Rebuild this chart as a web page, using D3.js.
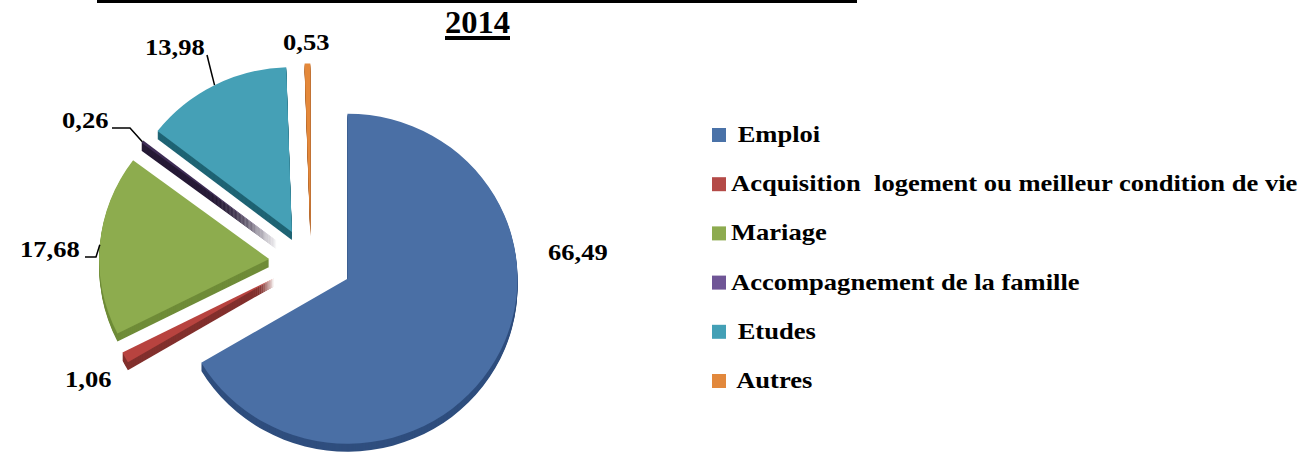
<!DOCTYPE html>
<html lang="fr">
<head>
  <meta charset="UTF-8">
  <title>2014</title>
  <script src="https://cdn.jsdelivr.net/npm/d3@7"></script>
  <style>
    body{ margin:0; background:#fff; }
    svg{ display:block; }
    text{ font-family:"Liberation Serif","Times New Roman",serif; font-weight:bold; fill:#000; white-space:pre; }
  </style>
</head>
<body>
  <script>
    // données
    const categories = [' Emploi', 'Acquisition  logement ou meilleur condition de vie', 'Mariage',
      'Accompagnement de la famille', ' Etudes', ' Autres'];
    const values = [66.49, 1.06, 17.68, 0.26, 13.98, 0.53];
    const valueLabels = ['66,49', '1,06', '17,68', '0,26', '13,98', '0,53'];
    const topColors = ['#4A6FA5', '#B8433F', '#8DAC4E', '#3E2C55', '#45A0B6', '#E4883A'];
    const sideColors = ['#2F4E7E', '#82302D', '#6F8C38', '#261A36', '#1F6474', '#B0652A'];
    const legendColors = ['#4A72A8', '#B44A47', '#8DAB4F', '#6F5596', '#43A0B6', '#E2883C'];

    const W = 1310, H = 453;
    const cx = 311, cy = 262, rx = 170, ry = 165, depth = 8, explode = 42;
    const sx = 1.18; // texte un peu étiré

    const svg = d3.select('body').append('svg').attr('width', W).attr('height', H);

    // titre (ligne soulignée coupée en haut + 2014)
    svg.append('rect').attr('x', 97).attr('y', 0).attr('width', 760).attr('height', 3).attr('fill', '#000');
    const t = svg.append('text').attr('transform', 'translate(445,33) scale(1.05,1)')
      .style('font-size', '31px').text('2014');
    svg.append('rect').attr('x', 445).attr('y', 36).attr('width', 65).attr('height', 4).attr('fill', '#000');

    const pie = d3.pie().sort(null).value(d => d)(values);
    const arc = d3.arc().innerRadius(0).outerRadius(rx);

    function offset(d){
      const a = (d.startAngle + d.endAngle) / 2;
      return [explode * Math.sin(a), -explode * 0.8 * Math.cos(a)];
    }

    const slices = svg.append('g').selectAll('g').data(pie).join('g')
      .attr('transform', d => {
        const [dx, dy] = offset(d);
        return `translate(${cx + dx},${cy + dy})`;
      });

    // côtés 3D
    slices.each(function(d, i){
      const g = d3.select(this);
      for (let k = depth; k >= 1; k--) {
        g.append('path')
          .attr('d', arc(d))
          .attr('transform', `translate(0,${k}) scale(1,${ry / rx})`)
          .attr('fill', sideColors[i]);
      }
      g.append('path')
        .attr('d', arc(d))
        .attr('transform', `scale(1,${ry / rx})`)
        .attr('fill', topColors[i]);
    });

    // étiquettes de valeurs
    const labelPos = [[548, 260], [65, 387], [20, 257], [62, 128], [145, 55], [283, 50]];
    const leaders = [null, null, [[85, 257], [96, 257]], [[112, 128], [130, 128]], [[207, 55]], null];

    function edgePoint(d){
      const a = (d.startAngle + d.endAngle) / 2;
      const [dx, dy] = offset(d);
      return [cx + dx + rx * Math.sin(a), cy + dy - ry * Math.cos(a)];
    }

    pie.forEach((d, i) => {
      if (leaders[i]) {
        const pts = leaders[i].concat([edgePoint(d)]);
        svg.append('path').attr('d', d3.line()(pts))
          .attr('fill', 'none').attr('stroke', '#000').attr('stroke-width', 1.5);
      }
    });

    svg.append('g').selectAll('text').data(valueLabels).join('text')
      .attr('transform', (d, i) => `translate(${labelPos[i][0]},${labelPos[i][1]}) scale(${sx},1)`)
      .style('font-size', '22.5px')
      .text(d => d);

    // légende
    const ly = d3.scalePoint().domain(d3.range(categories.length)).range([142, 388]);
    const leg = svg.append('g').selectAll('g').data(categories).join('g')
      .attr('transform', (d, i) => `translate(712,${ly(i)})`);
    leg.append('rect').attr('x', 0).attr('y', -14).attr('width', 14).attr('height', 14)
      .attr('fill', (d, i) => legendColors[i]);
    leg.append('text').attr('transform', `translate(19,0) scale(${sx},1)`)
      .style('font-size', '22.5px').text(d => d);
  </script>
</body>
</html>
